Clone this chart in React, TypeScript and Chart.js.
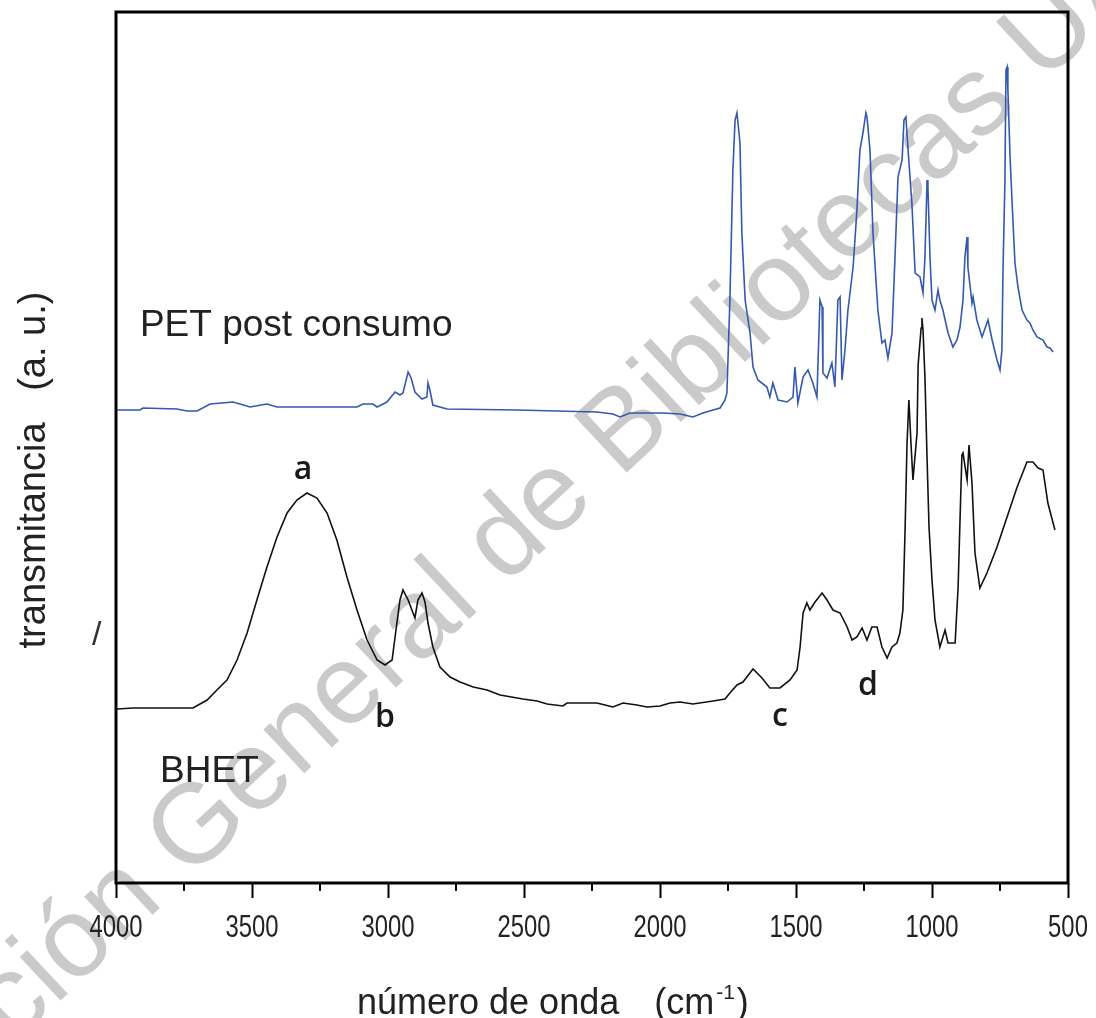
import React, { useEffect, useRef } from 'react';
import { Chart, registerables } from 'chart.js';

Chart.register(...registerables);

// ---- Data (wavenumber in cm^-1, transmittance in arbitrary units) ----
const PET_WAVENUMBER = [
  3996, 3912, 3901, 3776, 3739, 3702, 3654, 3570, 3507, 3445,
  3408, 3114, 3092, 3055, 3040, 3004, 2974, 2956, 2945, 2926,
  2915, 2901, 2875, 2857, 2853, 2846, 2835, 2783, 2526, 2379,
  2232, 2173, 2147, 2110, 1989, 1926, 1879, 1842, 1805, 1779,
  1761, 1754, 1743, 1732, 1724, 1717, 1706, 1699, 1687, 1669,
  1658, 1640, 1607, 1596, 1585, 1566, 1533, 1511, 1504, 1493,
  1474, 1456, 1438, 1423, 1412, 1404, 1401, 1386, 1368, 1357,
  1346, 1338, 1331, 1320, 1309, 1290, 1276, 1265, 1254, 1243,
  1239, 1228, 1217, 1199, 1184, 1173, 1162, 1147, 1136, 1125,
  1110, 1103, 1096, 1088, 1074, 1062, 1044, 1033, 1026, 1018,
  1015, 1007, 1000, 989, 978, 971, 960, 941, 923, 908,
  897, 886, 879, 871, 868, 853, 849, 835, 816, 798,
  794, 779, 761, 750, 743, 739, 732, 728, 724, 721,
  713, 706, 695, 684, 669, 651, 640, 629, 614, 592,
  577, 566, 555,
];
const PET_TRANSMITTANCE = [
  473, 473, 475, 474, 472, 472, 479, 481, 476, 479,
  476, 476, 479, 479, 476, 481, 491, 488, 490, 511,
  505, 491, 484, 486, 500, 493, 478, 474, 473, 472,
  471, 469, 466, 470, 470, 469, 466, 470, 473, 475,
  483, 490, 583, 713, 763, 770, 740, 650, 583, 550,
  516, 503, 496, 486, 500, 483, 481, 486, 516, 480,
  506, 513, 500, 486, 583, 576, 510, 505, 520, 496,
  583, 586, 503, 533, 573, 616, 673, 733, 750, 770,
  766, 733, 650, 573, 540, 543, 525, 550, 626, 706,
  723, 763, 766, 733, 680, 610, 606, 590, 626, 703,
  696, 623, 583, 573, 593, 583, 573, 550, 536, 543,
  556, 583, 626, 646, 616, 580, 586, 563, 546, 560,
  563, 543, 523, 513, 533, 613, 700, 813, 816, 793,
  726, 683, 620, 596, 573, 563, 560, 553, 546, 543,
  536, 535, 531,
];

const BHET_WAVENUMBER = [
  3996, 3937, 3717, 3665, 3629, 3592, 3555, 3518, 3482, 3445,
  3408, 3371, 3335, 3298, 3261, 3224, 3188, 3151, 3114, 3077,
  3040, 3011, 2985, 2974, 2956, 2945, 2926, 2901, 2890, 2875,
  2864, 2853, 2835, 2809, 2772, 2735, 2687, 2636, 2588, 2504,
  2452, 2415, 2357, 2342, 2232, 2173, 2136, 2085, 2048, 2000,
  1963, 1926, 1879, 1805, 1761, 1743, 1717, 1695, 1658, 1625,
  1596, 1559, 1522, 1496, 1485, 1474, 1460, 1449, 1430, 1404,
  1386, 1364, 1338, 1312, 1294, 1276, 1257, 1239, 1221, 1202,
  1184, 1165, 1147, 1129, 1118, 1107, 1099, 1092, 1085, 1077,
  1070, 1055, 1051, 1040, 1037, 1033, 1026, 1018, 1011, 1000,
  989, 971, 952, 941, 915, 904, 897, 890, 886, 871,
  864, 853, 842, 824, 798, 761, 724, 687, 651, 629,
  610, 592, 574, 548,
];
const BHET_TRANSMITTANCE = [
  174, 175, 175, 183, 193, 203, 223, 250, 283, 316,
  346, 370, 383, 390, 385, 370, 343, 306, 273, 243,
  223, 218, 223, 246, 283, 293, 283, 265, 283, 290,
  281, 260, 236, 216, 206, 201, 196, 193, 188, 184,
  182, 179, 177, 180, 180, 176, 180, 178, 176, 177,
  180, 181, 179, 182, 184, 190, 198, 201, 214, 205,
  195, 195, 203, 213, 236, 270, 280, 273, 281, 290,
  283, 273, 270, 256, 243, 246, 255, 243, 256, 256,
  236, 225, 236, 240, 250, 273, 353, 438, 483, 438,
  403, 450, 518, 555, 565, 553, 506, 423, 356, 303,
  263, 236, 253, 240, 240, 296, 363, 428, 430, 403,
  438, 400, 330, 295, 310, 336, 366, 396, 421, 421,
  415, 413, 380, 353,
];

const X_MAJOR_TICKS = [4000, 3500, 3000, 2500, 2000, 1500, 1000, 500];
const X_MINOR_TICKS = [3750, 3250, 2750, 2250, 1750, 1250, 750];

// Peak / curve annotations anchored in data coordinates
const PEAK_LABELS = ['a', 'b', 'c', 'd'];
const PEAK_LABEL_X = [3312, 3011, 1559, 1235];
const PEAK_LABEL_Y = [404, 156, 157, 188];

const SERIES_NAMES = ['PET post consumo', 'BHET'];
const SERIES_LABEL_X = [3912, 3838];
const SERIES_LABEL_Y = [547, 101];

const SANS = "'Liberation Sans', Arial, Helvetica, sans-serif";

const decorPlugin = {
  id: 'decor',
  beforeDatasetsDraw(chart: any) {
    const ctx = chart.ctx as CanvasRenderingContext2D;
    ctx.save();
    ctx.translate(500, 548);
    ctx.rotate((-43 * Math.PI) / 180);
    ctx.font = `113px ${SANS}`;
    ctx.fillStyle = 'rgba(128,128,128,0.42)';
    ctx.textAlign = 'center';
    ctx.textBaseline = 'middle';
    ctx.fillText('Dirección General de Bibliotecas UAQ', 0, 0);
    ctx.restore();
  },
  afterDatasetsDraw(chart: any) {
    const ctx = chart.ctx as CanvasRenderingContext2D;
    const { left, right, top, bottom } = chart.chartArea;
    const xs = chart.scales.x;
    const ys = chart.scales.y;
    ctx.save();
    // frame
    ctx.strokeStyle = '#000';
    ctx.lineWidth = 3;
    ctx.strokeRect(left, top, right - left, bottom - top);
    // minor ticks
    ctx.lineWidth = 2;
    ctx.beginPath();
    X_MINOR_TICKS.forEach((v) => {
      const px = Math.round(xs.getPixelForValue(v));
      ctx.moveTo(px, bottom);
      ctx.lineTo(px, bottom + 8);
    });
    ctx.stroke();

    // tick labels (condensed face, positioned by the x scale)
    ctx.fillStyle = '#222';
    ctx.font = `31px ${SANS}`;
    ctx.textAlign = 'center';
    ctx.textBaseline = 'alphabetic';
    xs.ticks.forEach((t: any) => {
      const px = xs.getPixelForValue(t.value);
      ctx.save();
      ctx.translate(px, 937);
      ctx.scale(0.77, 1);
      ctx.fillText(String(t.value), 0, 0);
      ctx.restore();
    });

    // series labels
    ctx.fillStyle = '#222';
    ctx.font = `37px ${SANS}`;
    ctx.textAlign = 'left';
    SERIES_NAMES.forEach((name, i) => {
      ctx.fillText(name, xs.getPixelForValue(SERIES_LABEL_X[i]), ys.getPixelForValue(SERIES_LABEL_Y[i]));
    });

    // peak labels
    ctx.font = `600 32px 'Open Sans', ${SANS}`;
    ctx.textAlign = 'center';
    ctx.fillStyle = '#1a1a1a';
    PEAK_LABELS.forEach((t, i) => {
      ctx.fillText(t, xs.getPixelForValue(PEAK_LABEL_X[i]), ys.getPixelForValue(PEAK_LABEL_Y[i]));
    });

    // y axis title
    ctx.save();
    ctx.translate(45, 470);
    ctx.rotate(-Math.PI / 2);
    ctx.font = `38px ${SANS}`;
    ctx.fillStyle = '#222';
    ctx.textAlign = 'center';
    ctx.fillText('transmitancia   (a. u.)', 0, 0);
    ctx.restore();

    // stray mark left of axis
    ctx.font = `34px ${SANS}`;
    ctx.fillStyle = '#333';
    ctx.textAlign = 'left';
    ctx.fillText('/', 92, 645);

    // x axis title with superscript
    ctx.fillStyle = '#222';
    ctx.textAlign = 'left';
    ctx.font = `36px ${SANS}`;
    const base = 1014;
    let x = 357;
    const main = 'número de onda';
    ctx.fillText(main, x, base);
    x += ctx.measureText(main).width;
    x += ctx.measureText('   ').width + 5;
    ctx.fillText('(cm', x, base);
    x += ctx.measureText('(cm').width + 2;
    ctx.font = `21px ${SANS}`;
    ctx.fillText('-1', x, base - 15);
    x += ctx.measureText('-1').width + 2;
    ctx.font = `36px ${SANS}`;
    ctx.fillText(')', x, base);
    ctx.restore();
  },
};

export default function App() {
  const ref = useRef<HTMLCanvasElement>(null);
  useEffect(() => {
    const canvas = ref.current;
    if (!canvas) return;
    const chart = new Chart(canvas, {
      type: 'scatter',
      data: {
        datasets: [
          {
            label: SERIES_NAMES[0],
            data: PET_WAVENUMBER.map((x, i) => ({ x, y: PET_TRANSMITTANCE[i] })),
            showLine: true,
            borderColor: '#3558b0',
            borderWidth: 1.6,
            pointRadius: 0,
            tension: 0,
            fill: false,
          },
          {
            label: SERIES_NAMES[1],
            data: BHET_WAVENUMBER.map((x, i) => ({ x, y: BHET_TRANSMITTANCE[i] })),
            showLine: true,
            borderColor: '#111111',
            borderWidth: 1.6,
            pointRadius: 0,
            tension: 0,
            fill: false,
          },
        ],
      },
      options: {
        responsive: false,
        animation: false,
        devicePixelRatio: 1,
        layout: { padding: { left: 116, right: 28, top: 12, bottom: 0 } },
        plugins: { legend: { display: false }, tooltip: { enabled: false } },
        scales: {
          x: {
            type: 'linear',
            reverse: true,
            min: 500,
            max: 4000,
            afterBuildTicks: (s: any) => {
              s.ticks = X_MAJOR_TICKS.map((v) => ({ value: v }));
            },
            afterFit: (s: any) => {
              s.height = 135;
            },
            grid: { drawOnChartArea: false, tickLength: 15, tickWidth: 2, tickColor: '#000' },
            border: { display: false },
            ticks: { display: false },
          },
          y: { display: false, min: 0, max: 871 },
        },
      },
      plugins: [decorPlugin],
    } as any);
    return () => chart.destroy();
  }, []);
  return (
    <div style={{ position: 'absolute', left: 0, top: 0, width: 1096, height: 1018, background: '#fff' }}>
      <canvas ref={ref} width={1096} height={1018} style={{ display: 'block' }} />
    </div>
  );
}
